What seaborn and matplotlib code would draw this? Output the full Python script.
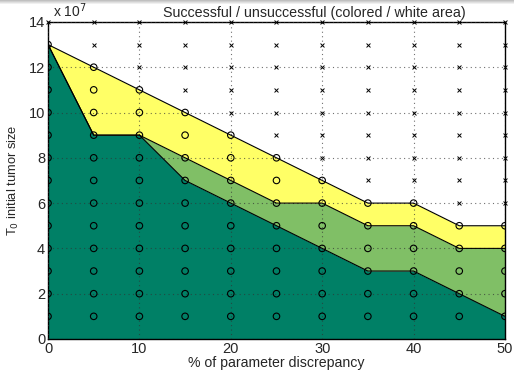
import numpy as np
import pandas as pd
import seaborn as sns
import matplotlib
matplotlib.use("Agg")
import matplotlib.pyplot as plt

# 数据: x为参数偏差百分比, 各区域上边界 (单位 1e7)
discrepancy = [0, 5, 10, 15, 20, 25, 30, 35, 40, 45, 50]
upper_yellow = [13, 12, 11, 10, 9, 8, 7, 6, 6, 5, 5]
upper_light = [13, 9, 9, 8, 7, 6, 6, 5, 5, 4, 4]
upper_dark = [13, 9, 9, 7, 6, 5, 4, 3, 3, 2, 1]
tumor_sizes = list(range(1, 15))

sns.set_style("white")
plt.rcParams['font.family'] = ['Liberation Sans', 'DejaVu Sans']

# 网格点: 彩色区域内为圆圈, 白色区域为叉
rows = []
for i, x in enumerate(discrepancy):
    for y in tumor_sizes:
        rows.append({'x': x, 'y': y, 'ok': y <= upper_yellow[i]})
pts = pd.DataFrame(rows)

fig = plt.figure(figsize=(5.14, 3.7), dpi=100)

# 顶部的灰色阴影条
bar = fig.add_axes([0, 1 - 5 / 370, 1, 5 / 370])
bar.imshow(np.linspace(0.75, 1, 5).reshape(-1, 1), cmap='gray', vmin=0, vmax=1,
           aspect='auto', extent=[0, 1, 0, 1])
bar.axis('off')

ax = fig.add_axes([0.0934, 0.0838, 0.889, 0.857])

c_dark = (0, 0.5, 0.4)
c_light = (0.5, 0.75, 0.4)
c_yellow = (1, 1, 0.4)

ax.fill_between(discrepancy, upper_light, upper_yellow, color=c_yellow, lw=0, zorder=1)
ax.fill_between(discrepancy, upper_dark, upper_light, color=c_light, lw=0, zorder=1)
ax.fill_between(discrepancy, 0, upper_dark, color=c_dark, lw=0, zorder=1)

for ub in [upper_yellow, upper_light, upper_dark]:
    sns.lineplot(x=discrepancy, y=ub, color='black', lw=0.8, ax=ax, zorder=3)

ax.grid(True, linestyle=(0, (1, 3)), color='#333333', lw=0.8, alpha=0.7, zorder=2)
ax.set_axisbelow(False)

good = pts[pts['ok']]
bad = pts[~pts['ok']]
sns.scatterplot(data=good, x='x', y='y', marker='o', s=22, facecolor='none',
                edgecolor='black', linewidth=0.8, ax=ax, zorder=4)
ax.scatter(bad['x'], bad['y'], marker='x', s=8, color='black', linewidth=0.7, zorder=4,
           clip_on=False)

ax.set_xlim(0, 50)
ax.set_ylim(0, 14)
ax.set_xticks(range(0, 51, 10))
ax.set_yticks(range(0, 15, 2))
ax.tick_params(direction='in', length=3, labelsize=10.5, pad=2)
for s in ax.spines.values():
    s.set_color('black')
    s.set_linewidth(1.0)

ax.set_xlabel('% of parameter discrepancy', fontsize=10.2, labelpad=0)
ax.set_ylabel('T$_0$ initial tumor size', fontsize=9.3, labelpad=6)
ax.text(0.582, 1.006, 'Successful / unsuccessful (colored / white area)',
        transform=ax.transAxes, fontsize=10.3, va='bottom', ha='center')
ax.text(0.01, 1.005, r'x 10$^7$', transform=ax.transAxes, fontsize=10, va='bottom', ha='left')

fig.savefig('out.png', dpi=100)
